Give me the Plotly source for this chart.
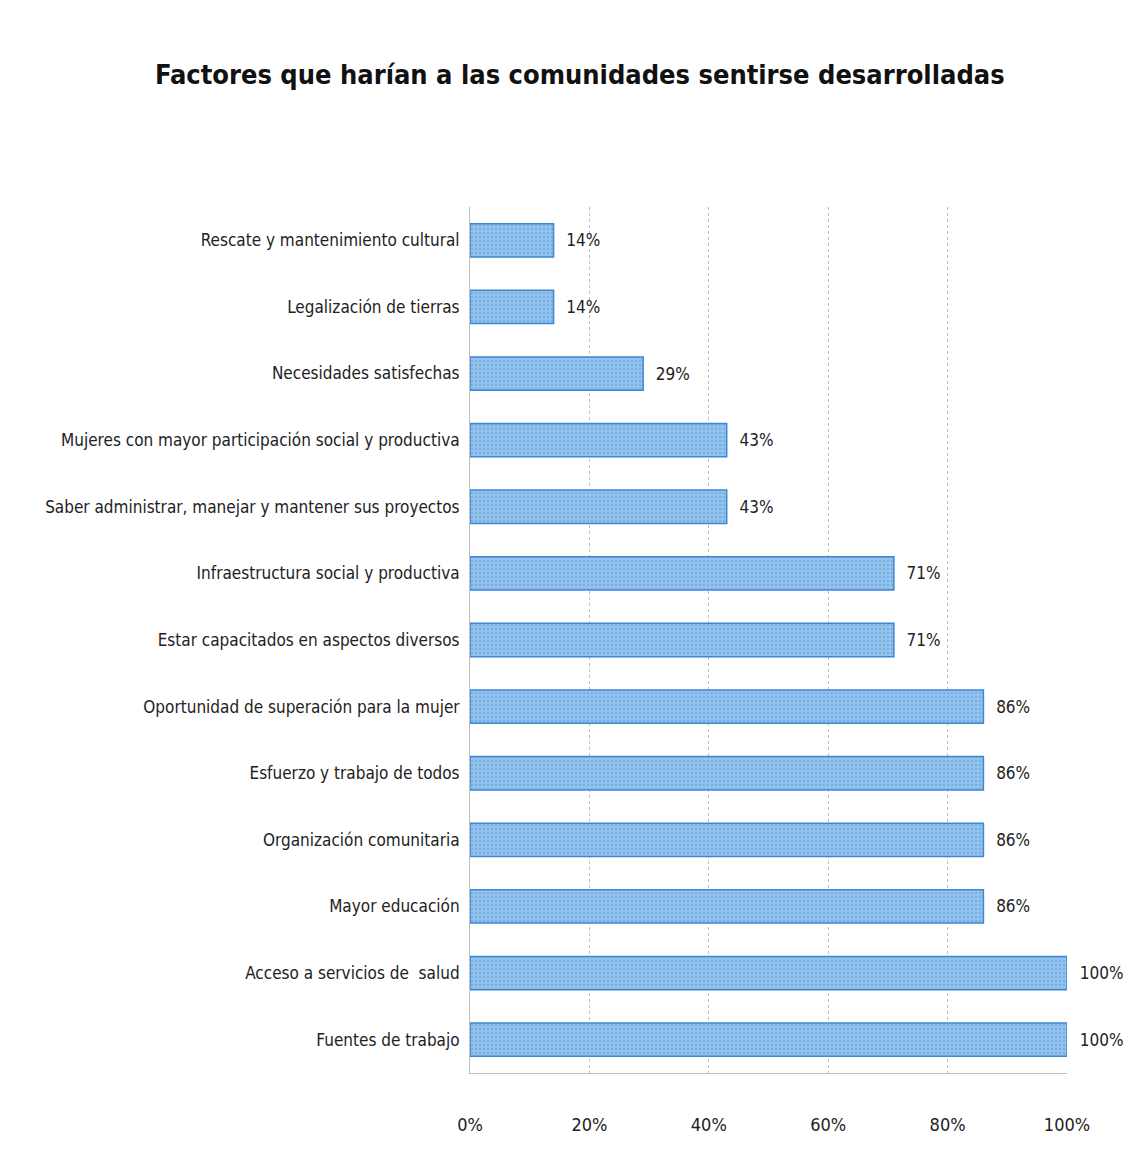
import plotly.graph_objects as go

categories = [
    "Rescate y mantenimiento cultural",
    "Legalización de tierras",
    "Necesidades satisfechas",
    "Mujeres con mayor participación social y productiva",
    "Saber administrar, manejar y mantener sus proyectos",
    "Infraestructura social y productiva",
    "Estar capacitados en aspectos diversos",
    "Oportunidad de superación para la mujer",
    "Esfuerzo y trabajo de todos",
    "Organización comunitaria",
    "Mayor educación",
    "Acceso a servicios de  salud",
    "Fuentes de trabajo",
]
values = [14, 14, 29, 43, 43, 71, 71, 86, 86, 86, 86, 100, 100]
labels = [f"  {v}%" for v in values]
tick_vals = [0, 20, 40, 60, 80, 100]
tick_text = ["0%", "20%", "40%", "60%", "80%", "100%"]
title = "Factores que harían a las comunidades sentirse desarrolladas"

FONT = "DejaVu Sans Condensed, Liberation Sans Narrow, Arial Narrow, sans-serif"

fig = go.Figure(go.Bar(
    y=categories,
    x=values,
    orientation="h",
    text=labels,
    textposition="outside",
    textfont=dict(family=FONT, size=17, color="#222222"),
    cliponaxis=False,
    width=0.5,
    marker=dict(
        color="#94c3ee",
        line=dict(color="#3d86d3", width=1.5),
        pattern=dict(shape=".", fgcolor="#5a9ad8", size=4, solidity=0.3),
    ),
))

fig.update_layout(
    width=1139,
    height=1152,
    paper_bgcolor="white",
    plot_bgcolor="white",
    showlegend=False,
    margin=dict(l=462, r=80, t=199, b=87),
    title=dict(
        text=f"<b>{title}</b>",
        x=0.502,
        xanchor="center",
        y=0.942,
        yanchor="middle",
        font=dict(family=FONT, size=27, color="#111111"),
    ),
    xaxis=dict(
        range=[0, 100],
        tickvals=tick_vals,
        ticktext=tick_text,
        tickfont=dict(family=FONT, size=18, color="#222222"),
        showgrid=True,
        gridcolor="#c0c0c0",
        griddash="dot",
        gridwidth=1,
        zeroline=False,
        showline=True,
        linecolor="#c0c0c0",
        ticks="outside",
        ticklen=35,
        tickcolor="rgba(0,0,0,0)",
    ),
    yaxis=dict(
        categoryorder="array",
        categoryarray=categories[::-1],
        tickfont=dict(family=FONT, size=17, color="#222222"),
        showgrid=False,
        showline=True,
        linecolor="#c0c0c0",
        ticks="outside",
        ticklen=6,
        tickcolor="rgba(0,0,0,0)",
        automargin=False,
    ),
    bargap=0.5,
)

fig.write_html("out.html")
